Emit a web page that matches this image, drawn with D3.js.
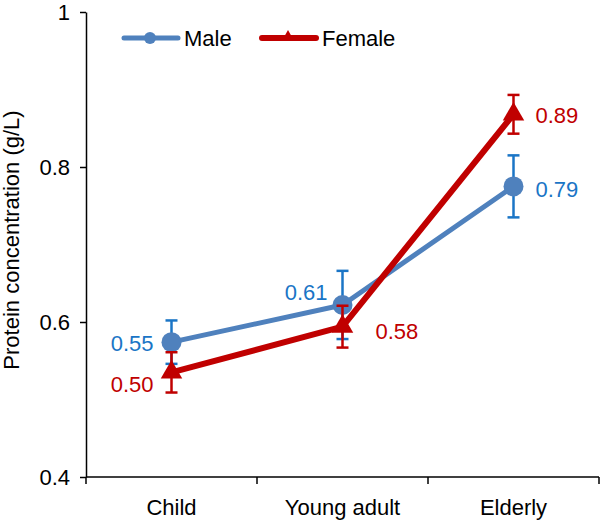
<!DOCTYPE html>
<html>
<head>
<meta charset="utf-8">
<script src="https://cdn.jsdelivr.net/npm/d3@7"></script>
<style>
  body { margin: 0; background: #fff; }
  svg { font-family: "Liberation Sans", Arial, sans-serif; }
</style>
</head>
<body>
<svg width="600" height="520"></svg>
<script>
// data
const groups = ["Child", "Young adult", "Elderly"];
const maleMean = [0.574, 0.622, 0.775];
const maleErr = [0.028, 0.044, 0.040];
const maleLabels = ["0.55", "0.61", "0.79"];
const femaleMean = [0.535, 0.594, 0.868];
const femaleErr = [0.026, 0.027, 0.025];
const femaleLabels = ["0.50", "0.58", "0.89"];
const yTicks = [0.4, 0.6, 0.8, 1];

const blueLine = "#4f81bd";
const blueBar = "#1a75c6";
const red = "#c00000";
const fs = 22;

let svg = d3.select("svg");
let padLeft = 86, padRight = 599, padTop = 12, padBottom = 477;

let x = d3.scaleBand().domain(groups).range([padLeft, padRight]);
let y = d3.scaleLinear().domain([0.4, 1]).range([padBottom, padTop]);
let cx = (g) => x(g) + x.bandwidth() / 2;

// y axis
svg.append("g")
  .attr("transform", "translate(" + padLeft + ",0)")
  .call(d3.axisLeft(y).tickValues(yTicks).tickFormat(d3.format("")).tickSize(6).tickPadding(10).tickSizeOuter(0))
  .call((g) => {
    g.select(".domain").attr("stroke", "#000").attr("stroke-width", 1.5);
    g.selectAll(".tick line").attr("stroke-width", 1.5);
    g.selectAll("text").attr("font-size", fs).attr("fill", "#000").attr("font-family", "Liberation Sans, Arial, sans-serif");
  });

// x axis: ticks at band edges, labels in the middle
let edges = groups.map((g) => x(g)).concat([padRight]);
let xa = svg.append("g");
xa.append("line")
  .attr("x1", padLeft).attr("x2", padRight)
  .attr("y1", padBottom).attr("y2", padBottom)
  .attr("stroke", "#000").attr("stroke-width", 1.5);
xa.selectAll("line.tk")
  .data(edges)
  .enter()
  .append("line")
  .attr("class", "tk")
  .attr("x1", (d) => d).attr("x2", (d) => d)
  .attr("y1", padBottom).attr("y2", padBottom + 7)
  .attr("stroke", "#000").attr("stroke-width", 1.5);
xa.selectAll("text")
  .data(groups)
  .enter()
  .append("text")
  .attr("x", (d) => cx(d))
  .attr("y", padBottom + 38)
  .attr("text-anchor", "middle")
  .attr("font-size", fs)
  .text((d) => d);

// y axis title
svg.append("text")
  .attr("transform", "translate(19,240) rotate(-90)")
  .attr("text-anchor", "middle")
  .attr("font-size", fs)
  .text("Protein concentration (g/L)");

let line = d3.line().x((d) => cx(d.g)).y((d) => y(d.v));

function drawSeries(means, errs, lineColor, barColor, lineWidth, marker) {
  let data = groups.map((g, i) => ({ g: g, v: means[i], e: errs[i] }));
  let eb = svg.append("g").attr("stroke", barColor).attr("stroke-width", 2.5);
  data.forEach((d) => {
    eb.append("line")
      .attr("x1", cx(d.g)).attr("x2", cx(d.g))
      .attr("y1", y(d.v - d.e)).attr("y2", y(d.v + d.e));
    [d.v - d.e, d.v + d.e].forEach((v) => {
      eb.append("line")
        .attr("x1", cx(d.g) - 6).attr("x2", cx(d.g) + 6)
        .attr("y1", y(v)).attr("y2", y(v));
    });
  });
  svg.append("path")
    .datum(data)
    .attr("d", line)
    .attr("fill", "none")
    .attr("stroke", lineColor)
    .attr("stroke-width", lineWidth)
    .attr("stroke-linejoin", "round");
  if (marker === "circle") {
    svg.append("g").selectAll("circle")
      .data(data)
      .enter()
      .append("circle")
      .attr("cx", (d) => cx(d.g))
      .attr("cy", (d) => y(d.v))
      .attr("r", 10)
      .attr("fill", lineColor);
  } else {
    svg.append("g").selectAll("path")
      .data(data)
      .enter()
      .append("path")
      .attr("d", d3.symbol(d3.symbolTriangle, 200))
      .attr("transform", (d) => "translate(" + cx(d.g) + "," + y(d.v) + ")")
      .attr("fill", lineColor);
  }
}

drawSeries(maleMean, maleErr, blueLine, blueBar, 5, "circle");
drawSeries(femaleMean, femaleErr, red, red, 6, "triangle");

// value labels (offsets in pixels from each point)
let maleOff = [[-18, 1, "end"], [-15, -13, "end"], [22, 3, "start"]];
let femaleOff = [[-18, 12, "end"], [33, 5, "start"], [22, 1, "start"]];
function drawLabels(means, labels, offs, color) {
  svg.append("g").selectAll("text")
    .data(groups)
    .enter()
    .append("text")
    .attr("x", (d, i) => cx(d) + offs[i][0])
    .attr("y", (d, i) => y(means[i]) + offs[i][1])
    .attr("dy", "0.35em")
    .attr("text-anchor", (d, i) => offs[i][2])
    .attr("font-size", fs)
    .attr("fill", color)
    .text((d, i) => labels[i]);
}
drawLabels(maleMean, maleLabels, maleOff, blueBar);
drawLabels(femaleMean, femaleLabels, femaleOff, red);

// legend
let lg = svg.append("g");
lg.append("line")
  .attr("x1", 124).attr("x2", 178).attr("y1", 38).attr("y2", 38)
  .attr("stroke", blueLine).attr("stroke-width", 5).attr("stroke-linecap", "round");
lg.append("circle").attr("cx", 150).attr("cy", 38).attr("r", 6).attr("fill", blueLine);
lg.append("text").attr("x", 184).attr("y", 38).attr("dy", "0.35em").attr("font-size", fs).text("Male");
lg.append("line")
  .attr("x1", 262).attr("x2", 316).attr("y1", 38).attr("y2", 38)
  .attr("stroke", red).attr("stroke-width", 6).attr("stroke-linecap", "round");
lg.append("path")
  .attr("d", d3.symbol(d3.symbolTriangle, 45))
  .attr("transform", "translate(288,36)")
  .attr("fill", red);
lg.append("text").attr("x", 322).attr("y", 38).attr("dy", "0.35em").attr("font-size", fs).text("Female");
</script>
</body>
</html>
